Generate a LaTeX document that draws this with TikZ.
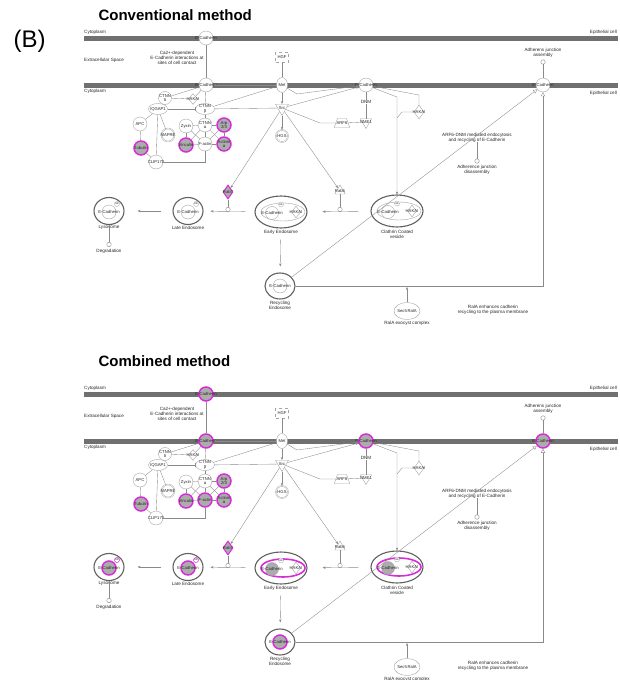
\documentclass[tikz,border=0pt]{standalone}
\usepackage{fontspec}
\setmainfont{Liberation Sans}
\usetikzlibrary{shapes.geometric, arrows.meta, positioning, calc}
\definecolor{membgray}{RGB}{112,112,112}
\definecolor{linegray}{RGB}{138,138,138}
\definecolor{nodegray}{RGB}{165,165,165}
\definecolor{hlmag}{RGB}{214,46,214}
\definecolor{hlgray}{RGB}{172,172,172}

\begin{document}
\begin{tikzpicture}[x=1pt, y=-1pt,
  txt/.style={font=\fontsize{4.6}{5}\selectfont, text=black!85, inner sep=0pt, align=center},
  lab/.style={label={[txt, font=\fontsize{4.2}{4.4}\selectfont]center:{#1}}},
  mol/.style={shape=circle, draw=nodegray, fill=white, line width=0.4pt, minimum size=14pt, inner sep=0.5pt},
  oval/.style={mol, shape=ellipse, minimum width=19pt, minimum height=11pt},
  dia/.style={mol, shape=diamond, minimum width=10pt, minimum height=14pt},
  tri/.style={mol, shape=regular polygon, regular polygon sides=3, minimum size=15pt},
  trap/.style={mol, shape=trapezium, trapezium left angle=70, trapezium right angle=70, minimum width=13pt, minimum height=9pt},
  ub/.style={shape=circle, draw=nodegray, fill=white, minimum size=5pt, inner sep=0.5pt, line width=0.3pt,
    label={[font=\fontsize{2.4}{2.6}\selectfont]center:Ub}},
  proc/.style={shape=circle, draw=linegray, fill=white, minimum size=4.5pt, inner sep=0.5pt, line width=0.4pt},
  endo/.style={shape=ellipse, draw=black!62, line width=1.1pt, fill=white, inner sep=0.5pt},
  cplx/.style={shape=ellipse, draw=nodegray, fill=white, line width=0.4pt, minimum width=44pt, minimum height=18pt},
  memb/.style={fill=membgray},
  edge/.style={draw=linegray, line width=0.35pt},
  arr/.style={edge, -{Stealth[length=3pt, width=2.4pt]}},
  opn/.style={edge, -{Triangle[open, length=4pt, width=4pt]}},
  inh/.style={edge, -{Bar[width=4pt]}},
  ttl/.style={anchor=west, font=\fontsize{15}{15}\selectfont\bfseries},
  nohl/.style={}, nohlring/.style={}, nohlfill/.style={}, nohlub/.style={},
  hl/.style={draw=hlmag, line width=1.5pt, fill=hlgray},
  hlring/.style={draw=hlmag, line width=1.6pt},
  hlfill/.style={fill=hlgray},
  hlub/.style={draw=hlmag, line width=0.5pt}
]
\useasboundingbox (0,0) rectangle (620,680);

\node[anchor=west, font=\fontsize{24}{24}\selectfont] (panB) at (10,41) {(B)};
\node[ttl] (ttlA) at (95,15) {Conventional method};
\node[ttl] (ttlB) at (95,361) {Combined method};

\foreach \dy/\hb in {0/nohl, 356/hl}{
\begin{scope}[shift={(0,\dy)}, hiB/.style/.expanded={\hb}, hiC/.style/.expanded={\hb ring}, hiF/.style/.expanded={\hb fill}, hiU/.style/.expanded={\hb ub}]
  % membranes and compartments
  \fill[memb] (84,36) rectangle (618,40.5);
  \fill[memb] (84,83) rectangle (618,87.5);
  \node[txt, anchor=west] (cytA) at (84,32.5) {Cytoplasm};
  \node[txt, anchor=east] (epiA) at (617,32) {Epithelial cell};
  \node[txt, anchor=west] (extra) at (84,60) {Extracellular Space};
  \node[txt, anchor=west] (cytB) at (84,91) {Cytoplasm};
  \node[txt, anchor=east] (epiB) at (617,93) {Epithelial cell};
  \node[txt] (cadint) at (177,57.5) {Ca2+-dependent\\E-Cadherin interactions at\\sites of cell contact};
  \node[txt] (aja) at (543,53) {Adherens junction\\assembly};
  \node[txt] (arfd) at (477,137.5) {ARF6-DNM mediated endocytosis\\and recycling of E-Cadherin};
  \node[txt] (ajd) at (477,170) {Adherence junction\\disassembly};
  \node[txt] (ralt) at (493,310) {RalA enhances cadherin\\recycling to the plasma membrane};

  % molecules
  \node[mol, hiB, lab=E-Cadherin] (ecT) at (206,38) {};
  \node[mol, hiB, lab=E-Cadherin] (ecL) at (206,85) {};
  \node[mol, hiB, lab=E-Cadherin] (ecM) at (366,85) {};
  \node[mol, hiB, lab=E-Cadherin] (ecR) at (543,85) {};
  \node[mol, shape=rectangle, dashed, minimum width=13pt, minimum height=10pt, lab=HGF] (hgf) at (282,57) {};
  \node[oval, minimum width=11pt, minimum height=15pt, lab=Met] (met) at (282,85) {};
  \node[tri, shape border rotate=180, lab=Src] (src) at (282,108) {};
  \node[mol, double=white, double distance=0.5pt, minimum size=12pt, lab=HGS] (hgs) at (282,136) {};
  \node[txt, fill=white, inner sep=0.6pt] (dnm) at (366,102) {DNM};
  \node[tri, shape border rotate=180, minimum size=13pt, lab=NME1] (nme) at (366,122) {};
  \node[trap, lab=ARF6] (arf) at (342,123) {};
  \node[dia, lab=HAKAI] (hkR) at (419,112) {};
  \node[mol, minimum size=13pt, lab=CTNN\\δ] (ctd) at (165,98) {};
  \node[dia, minimum width=9pt, minimum height=11pt, lab=HAKAI] (hkL) at (193,99) {};
  \node[oval, lab=IQGAP1] (iq) at (158,109) {};
  \node[oval, lab=CTNN\\β] (ctb) at (205,109) {};
  \node[mol, lab=APC] (apc) at (140,124) {};
  \node[mol, double=white, double distance=0.5pt, minimum size=13pt, lab=MAPRE] (map) at (168,135) {};
  \node[mol, lab=Zyxin] (zyx) at (186,126) {};
  \node[mol, lab=CTNN\\α] (cta) at (205,125) {};
  \node[mol, hl, lab=Arp\\2/3] (arp) at (224,125) {};
  \node[mol, hl, lab=Tubulin] (tub) at (141,148) {};
  \node[mol, hl, lab=Vinculin] (vin) at (186,145) {};
  \node[mol, hiB, lab=F-actin] (fac) at (205,144) {};
  \node[mol, hl, lab=Actinin\\α] (act) at (224,144) {};
  \node[mol, lab=CLIP170] (clip) at (156,162) {};
  \node[dia, hl, line width=1pt, lab=Rab7] (rab7) at (228,192) {};
  \node[tri, minimum size=12pt, lab=Rab5] (rab5) at (340,191) {};
  \node[proc] (rab7c) at (228,209.5) {};
  \node[proc] (rab5c) at (340,209.5) {};

  % vesicles and endosomes
  \node[endo, minimum width=30pt, minimum height=27pt] (lyso) at (109,211) {};
  \node[mol, hiB, lab=E-Cadherin] (lysoE) at (109,212) {};
  \node[ub, hiU] (lysoU) at (117,204) {};
  \node[endo, minimum width=30pt, minimum height=27pt] (late) at (188,211) {};
  \node[mol, hiB, lab=E-Cadherin] (lateE) at (188,212) {};
  \node[ub, hiU] (lateU) at (196,204) {};
  \node[endo, minimum width=52pt, minimum height=32pt] (early) at (281,212) {};
  \node[cplx, hiC] (earlyC) at (283,212) {};
  \node[mol, minimum size=13pt, hiF, lab=E-Cadherin] (earlyE) at (272,213) {};
  \node[dia, minimum width=9pt, minimum height=12pt, lab=HAKAI] (earlyH) at (296,212) {};
  \node[ub] (earlyU) at (281,204.5) {};
  \node[endo, minimum width=52pt, minimum height=32pt] (clath) at (397,211) {};
  \node[cplx, hiC] (clathC) at (399,211) {};
  \node[mol, minimum size=13pt, hiF, lab=E-Cadherin] (clathE) at (388,212) {};
  \node[dia, minimum width=9pt, minimum height=12pt, lab=HAKAI] (clathH) at (412,211) {};
  \node[ub] (clathU) at (397,203.5) {};
  \node[endo, minimum width=30pt, minimum height=26pt] (recyc) at (280,286) {};
  \node[mol, hiB, lab=E-Cadherin] (recycE) at (280,286) {};
  \node[mol, shape=ellipse, minimum width=26pt, minimum height=17pt, lab={Sec5\,RalA}] (sec) at (407,311) {};
  \node[txt] (lysoT) at (109,227) {Lysosome};
  \node[txt] (lateT) at (188,228) {Late Endosome};
  \node[txt] (earlyT) at (281,232) {Early Endosome};
  \node[txt] (clathT) at (397,234) {Clathrin Coated\\vesicle};
  \node[txt] (recycT) at (280,305) {Recycling\\Endosome};
  \node[txt] (secT) at (407,323) {RalA exocyst complex};
  \node[txt] (degT) at (109,251.5) {Degradation};
  \node[proc] (degC) at (109,244.5) {};
  \node[proc] (ajaC) at (543,62) {};
  \node[proc] (ajdC) at (477,161) {};
  \coordinate (rcor) at (543,286);
  \coordinate (secA) at (407,287);

  % connectors
  \draw[edge] (ecT) -- (ecL);
  \draw[edge] (ctd) -- (ecL);
  \draw[edge] (ctd) -- (hkL);
  \draw[edge] (hkL) -- (ecL);
  \draw[edge] (ecL) -- (ctb);
  \draw[inh] (iq) -- (ctb);
  \draw[edge] (iq) -- (apc);
  \draw[edge] (iq) -- (map);
  \draw[edge] (iq) -- (clip);
  \draw[edge] (apc) -- (tub);
  \draw[edge] (tub) -- (clip);
  \draw[edge] (clip) -| (fac);
  \draw[edge] (ctb) -- (cta);
  \foreach \a/\b in {zyx/cta, cta/arp, vin/fac, fac/act, zyx/vin, cta/fac, arp/act, zyx/fac, cta/vin, cta/act, arp/fac}
    \draw[edge] (\a) -- (\b);
  \draw[arr] (met) -- (ecL);
  \draw[edge] (ctb) -- (met);
  \draw[edge] (ctb) -- (src);
  \draw[edge] (hgf) -- (met);
  \draw[arr] (met) -- (src);
  \draw[arr] (src) -- (hgs);
  \draw[arr] (met) -- (297,94) -- (ecM);
  \draw[arr] (src) -- (ecM);
  \draw[edge] (src) -- (320,123) -- (arf);
  \draw[edge] (arf) -- (nme);
  \draw[edge] (ecM) -- (dnm) -- (nme);
  \draw[edge] (ecM) -- (419,95) -- (hkR);
  \draw[arr] (ecM) -- (397,97) -- (clath);
  \draw[edge] (hkR) -- (402,112) -- (397,118);
  \draw[arr] (src) -- (rab7);
  \draw[arr] (src) -- (rab5);
  \draw[edge] (rab7) -- (rab7c);
  \draw[edge] (rab5) -- (rab5c);
  \draw[arr, shorten <=9pt, shorten >=7pt] (early) -- (late);
  \draw[arr, shorten <=11pt, shorten >=13pt] (late) -- (lyso);
  \draw[arr, shorten <=12pt, shorten >=15pt] (clath) -- (early);
  \draw[edge] (lyso) -- (degC);
  \draw[edge] (ajaC) -- (ecR);
  \draw[edge] (ajdC) -- (arfd);
  \draw[arr, shorten <=11pt, shorten >=6pt] (early) -- (recyc);
  \draw[opn] (recyc) -- (rcor) -- (ecR);
  \draw[opn] (recyc) -- (ecR);
  \draw[arr] (sec) -- (secA);
\end{scope}
}
\end{tikzpicture}
\end{document}
